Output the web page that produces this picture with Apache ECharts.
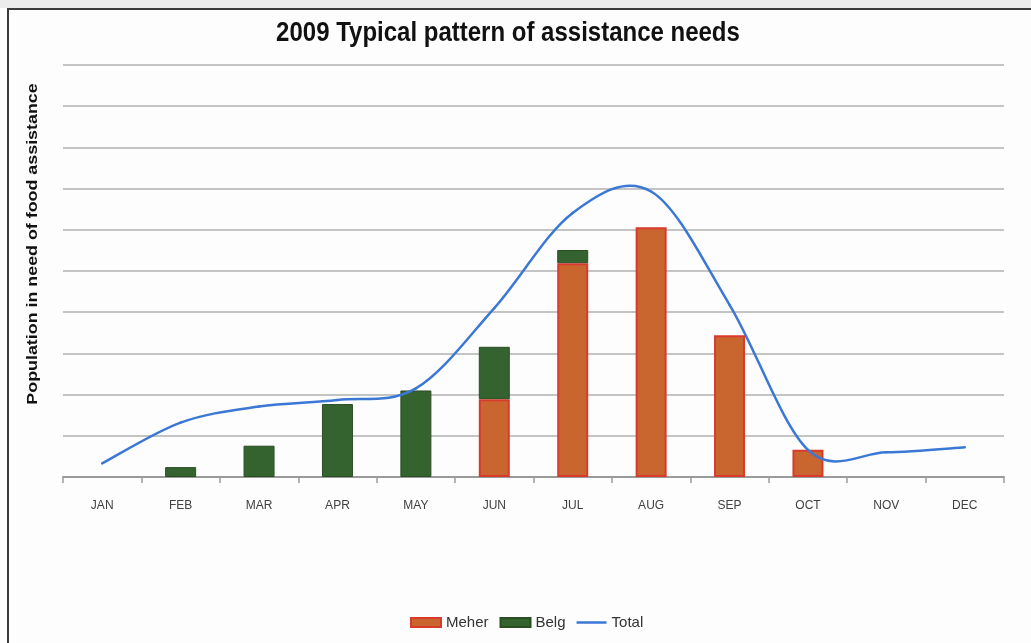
<!DOCTYPE html>
<html>
<head>
<meta charset="utf-8">
<script src="https://cdn.jsdelivr.net/npm/echarts@6/dist/echarts.min.js"></script>
<style>
  html, body { margin: 0; padding: 0; background: #ffffff; }
  #strip { position: absolute; left: 0; top: 0; width: 1031px; height: 8px; background: #ececec; }
  #frame { position: absolute; left: 7px; top: 8px; width: 1040px; height: 660px;
           border-left: 2px solid #3c3c3c; border-top: 2px solid #3c3c3c; background: #fdfdfd; }
  #chart { position: absolute; left: 0; top: 0; width: 1031px; height: 643px; }
</style>
</head>
<body>
<div id="strip"></div>
<div id="frame"></div>
<div id="chart"></div>
<script>
// Monthly caseload, in gridline units
const months = ['JAN', 'FEB', 'MAR', 'APR', 'MAY', 'JUN', 'JUL', 'AUG', 'SEP', 'OCT', 'NOV', 'DEC'];
const meher = [null, null, null, null, null, 1.89, 5.19, 6.06, 3.44, 0.66, null, null];
const belg  = [null, 0.24, 0.76, 1.77, 2.10, 1.27, 0.32, null, null, null, null, null];
const total = [0.33, 1.32, 1.71, 1.87, 2.15, 4.10, 6.41, 6.93, 4.18, 0.66, 0.60, 0.72];

const LINE_COLOR = '#3B78D6';
const LABEL_FONT = 'Liberation Sans, Arial, sans-serif';

// Smooth "Total" curve: uniform Catmull-Rom spline through the month points,
// drawn as cubic Bezier segments in pixel space.
function renderTotal(params, api) {
  if (params.dataIndex !== 0) return null;
  const pts = total.map((v, i) => api.coord([i, v]));
  const n = pts.length;
  const at = (i) => pts[Math.max(0, Math.min(n - 1, i))];
  const children = [];
  for (let i = 0; i < n - 1; i++) {
    const p0 = at(i - 1), p1 = at(i), p2 = at(i + 1), p3 = at(i + 2);
    children.push({
      type: 'bezierCurve',
      shape: {
        x1: p1[0], y1: p1[1],
        cpx1: p1[0] + (p2[0] - p0[0]) / 6, cpy1: p1[1] + (p2[1] - p0[1]) / 6,
        cpx2: p2[0] - (p3[0] - p1[0]) / 6, cpy2: p2[1] - (p3[1] - p1[1]) / 6,
        x2: p2[0], y2: p2[1]
      },
      style: { stroke: LINE_COLOR, lineWidth: 2.5, fill: null, lineCap: 'round' }
    });
  }
  return { type: 'group', children: children };
}

const chart = echarts.init(document.getElementById('chart'), null, { renderer: 'canvas' });

chart.setOption({
  backgroundColor: 'transparent',
  animation: false,
  graphic: [
    {
      type: 'text',
      x: 508, y: 34,
      scaleY: 1.12,
      style: {
        text: '2009 Typical pattern of assistance needs',
        font: 'bold 24px ' + LABEL_FONT,
        fill: '#111111',
        align: 'center', verticalAlign: 'middle',
        textAlign: 'center', textVerticalAlign: 'middle'
      }
    },
    {
      type: 'text',
      x: 33, y: 244,
      rotation: Math.PI / 2,
      scaleX: 1.19,
      style: {
        text: 'Population in need of food assistance',
        font: 'bold 15px ' + LABEL_FONT,
        fill: '#111111',
        align: 'center', verticalAlign: 'middle',
        textAlign: 'center', textVerticalAlign: 'middle'
      }
    }
  ],
  legend: {
    top: 610,
    left: 405,
    itemWidth: 30,
    itemHeight: 9,
    itemGap: 11,
    textStyle: { fontFamily: LABEL_FONT, fontSize: 15, color: '#333333' },
    data: [
      { name: 'Meher', icon: 'rect' },
      { name: 'Belg', icon: 'rect' },
      { name: 'Total', icon: 'path://M0,0 H30 V2.5 H0 Z' }
    ]
  },
  grid: { left: 63, right: 27, top: 65, bottom: 166 },
  xAxis: {
    type: 'category',
    data: months,
    boundaryGap: true,
    axisLine: { show: true, lineStyle: { color: '#9a9a9a', width: 2 } },
    axisTick: { show: true, length: 6, lineStyle: { color: '#9a9a9a', width: 1.5 } },
    axisLabel: {
      margin: 23,
      fontFamily: LABEL_FONT,
      fontSize: 12,
      color: '#404040'
    }
  },
  yAxis: {
    type: 'value',
    min: 0,
    max: 10,
    interval: 1,
    axisLine: { show: false },
    axisTick: { show: false },
    axisLabel: { show: false },
    splitLine: { show: true, lineStyle: { color: '#c4c4c4', width: 2 } }
  },
  series: [
    {
      name: 'Meher',
      type: 'bar',
      stack: 'need',
      barWidth: 31,
      data: meher,
      itemStyle: { color: '#C9662F', borderColor: '#D93A2C', borderWidth: 2 }
    },
    {
      name: 'Belg',
      type: 'bar',
      stack: 'need',
      barWidth: 31,
      data: belg,
      itemStyle: { color: '#356330', borderColor: '#2b4d24', borderWidth: 1 }
    },
    {
      name: 'Total',
      type: 'custom',
      renderItem: renderTotal,
      data: total.map((v, i) => [i, v]),
      encode: { x: 0, y: 1 },
      itemStyle: { color: LINE_COLOR },
      clip: false,
      z: 5
    }
  ]
});
</script>
</body>
</html>
